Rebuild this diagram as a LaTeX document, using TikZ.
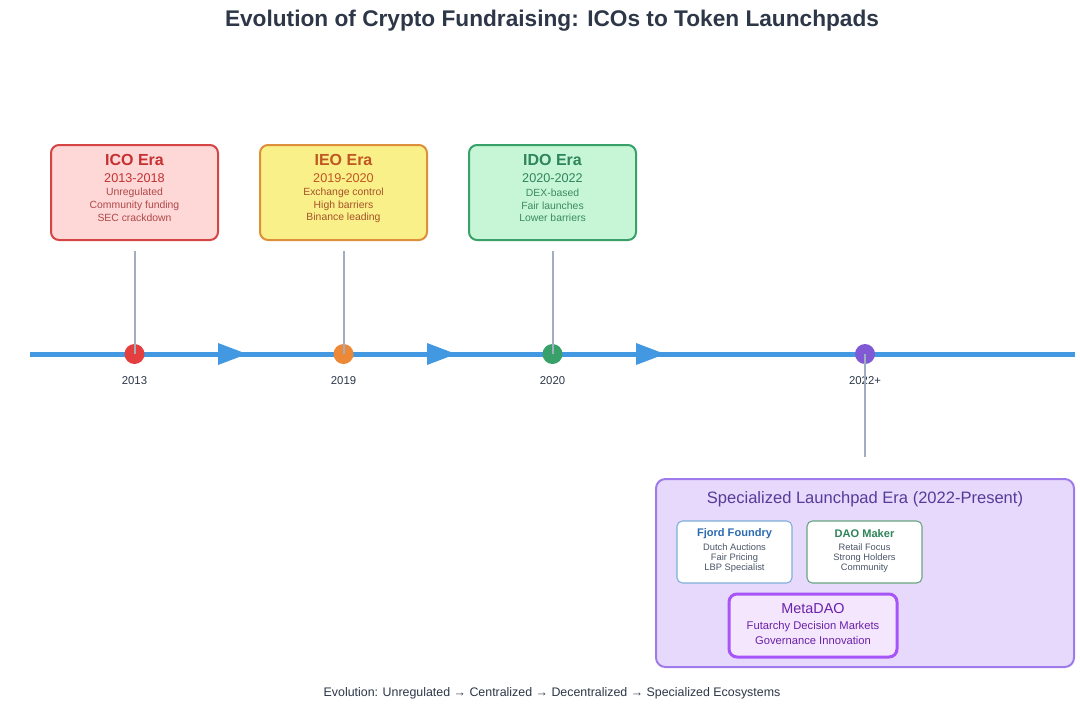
\documentclass[tikz,border=0pt]{standalone}
\usepackage{fontspec}
\setmainfont{Liberation Sans}
\usetikzlibrary{positioning}
\definecolor{inkDark}{HTML}{2D3748}
\definecolor{inkGray}{HTML}{4A5568}
\definecolor{lineBlue}{HTML}{4299E1}
\definecolor{stemGray}{HTML}{A0AEC0}
\definecolor{icoFill}{HTML}{FED7D7}
\definecolor{icoLine}{HTML}{D64545}
\definecolor{icoText}{HTML}{C53030}
\definecolor{icoSub}{HTML}{B04848}
\definecolor{ieoFill}{HTML}{FAF089}
\definecolor{ieoLine}{HTML}{DD8F3A}
\definecolor{ieoText}{HTML}{C05621}
\definecolor{ieoSub}{HTML}{A5522A}
\definecolor{idoFill}{HTML}{C6F6D5}
\definecolor{idoLine}{HTML}{38A169}
\definecolor{idoText}{HTML}{2F855A}
\definecolor{idoSub}{HTML}{3C8A60}
\definecolor{dotRed}{HTML}{E53E3E}
\definecolor{dotOrange}{HTML}{ED8936}
\definecolor{dotGreen}{HTML}{38A169}
\definecolor{dotPurple}{HTML}{805AD5}
\definecolor{specFill}{HTML}{E6D9FB}
\definecolor{specLine}{HTML}{9F7AEA}
\definecolor{specText}{HTML}{553C9A}
\definecolor{fjordLine}{HTML}{7FAFD9}
\definecolor{fjordText}{HTML}{2B6CB0}
\definecolor{daoLine}{HTML}{68A57F}
\definecolor{metaFill}{HTML}{F3E6FD}
\definecolor{metaLine}{HTML}{A855F7}
\definecolor{metaText}{HTML}{6B21A8}
\tikzset{
    erabox/.style={rounded corners=6pt, line width=1.5pt, minimum width=125.25pt, minimum height=71.25pt},
    erahead/.style={font=\fontsize{12}{14}\selectfont\bfseries},
    erayears/.style={font=\fontsize{9.5}{11}\selectfont},
    eraline/.style={font=\fontsize{7.8}{9}\selectfont},
    yearlbl/.style={font=\fontsize{8.5}{10}\selectfont, text=inkDark},
    timeline/.style={draw=lineBlue, line width=3.75pt},
    stem/.style={draw=stemGray, line width=1.5pt},
    padbox/.style={draw=#1, fill=white, rounded corners=4pt, line width=0.8pt, minimum width=86.25pt, minimum height=46.5pt},
    padhead/.style={font=\fontsize{8.3}{10}\selectfont\bfseries},
    padline/.style={font=\fontsize{7}{8}\selectfont, text=inkGray}
}
\begin{document}
\begin{tikzpicture}[x=0.75pt, y=-0.75pt, inner sep=0pt]
    \useasboundingbox[fill=white] (0,0) rectangle (1080,711);
    \node[font=\fontsize{17}{20}\selectfont\bfseries, text=inkDark] (title) at (552,21) {Evolution of Crypto Fundraising: ICOs to Token Launchpads};

    % era cards
    \foreach \n/\x/\era/\yrs/\la/\lb/\lc/\col in {ico/134.5/ICO Era/2013-2018/Unregulated/Community funding/SEC crackdown/ico,
        ieo/343.5/IEO Era/2019-2020/Exchange control/High barriers/Binance leading/ieo,
        ido/552.5/IDO Era/2020-2022/DEX-based/Fair launches/Lower barriers/ido}{
        \node[erabox, draw=\col Line, fill=\col Fill] (\n) at (\x,192.5) {};
        \node[erahead, text=\col Text] (\n-t) at (\x,160) {\era};
        \node[erayears, text=\col Text] (\n-y) at (\x,178) {\yrs};
        \node[eraline, text=\col Sub] (\n-a) at (\x,193) {\la};
        \node[eraline, text=\col Sub] (\n-b) at (\x,206) {\lb};
        \node[eraline, text=\col Sub] (\n-c) at (\x,218) {\lc};
    }

    % timeline
    \coordinate (tl-start) at (30,354);
    \coordinate (tl-end) at (1075,354);
    \draw[timeline] (tl-start) -- (tl-end);
    \foreach \x in {218,427,636}{
        \fill[lineBlue] (\x,343) -- (\x+29,354) -- (\x,365) -- cycle;
    }
    \foreach \n/\x/\yr/\col in {d1/134.5/2013/dotRed, d2/343.5/2019/dotOrange, d3/552.5/2020/dotGreen, d4/865/2022+/dotPurple}{
        \node[circle, fill=\col, minimum size=15pt] (\n) at (\x,354) {};
        \node[yearlbl] (\n-y) at (\x,381) {\yr};
    }
    \draw[stem] ([yshift=-7.5pt]ico.south) -- (d1.center);
    \draw[stem] ([yshift=-7.5pt]ieo.south) -- (d2.center);
    \draw[stem] ([yshift=-7.5pt]ido.south) -- (d3.center);

    % specialized era
    \node[draw=specLine, fill=specFill, rounded corners=7pt, line width=1.5pt, minimum width=313.5pt, minimum height=141pt] (spec) at (865,573) {};
    \draw[stem] (d4.center) -- ([yshift=15.75pt]spec.north);
    \node[font=\fontsize{12.4}{15}\selectfont, text=specText] (spec-t) at (865,499) {Specialized Launchpad Era (2022-Present)};

    \node[padbox=fjordLine] (fjord) at (734.5,552) {};
    \node[padhead, text=fjordText] (fjord-t) at (734.5,534) {Fjord Foundry};
    \node[padline] (fjord-a) at (734.5,547) {Dutch Auctions};
    \node[padline] (fjord-b) at (734.5,558) {Fair Pricing};
    \node[padline] (fjord-c) at (734.5,568) {LBP Specialist};

    \node[padbox=daoLine] (dao) at (864.5,552) {};
    \node[padhead, text=idoText] (dao-t) at (864.5,534) {DAO Maker};
    \node[padline] (dao-a) at (864.5,547) {Retail Focus};
    \node[padline] (dao-b) at (864.5,558) {Strong Holders};
    \node[padline] (dao-c) at (864.5,568) {Community};

    \node[draw=metaLine, fill=metaFill, rounded corners=6pt, line width=2.25pt, minimum width=126pt, minimum height=47.25pt] (meta) at (813,625.5) {};
    \node[font=\fontsize{10.8}{13}\selectfont, text=metaText] (meta-t) at (813,609) {MetaDAO};
    \node[font=\fontsize{8.4}{10}\selectfont, text=metaText] (meta-a) at (813,627) {Futarchy Decision Markets};
    \node[font=\fontsize{8.4}{10}\selectfont, text=metaText] (meta-b) at (813,640) {Governance Innovation};

    \node[font=\fontsize{9.3}{11}\selectfont, text=inkDark] (footer) at (552,693) {Evolution: Unregulated → Centralized → Decentralized → Specialized Ecosystems};
\end{tikzpicture}
\end{document}
